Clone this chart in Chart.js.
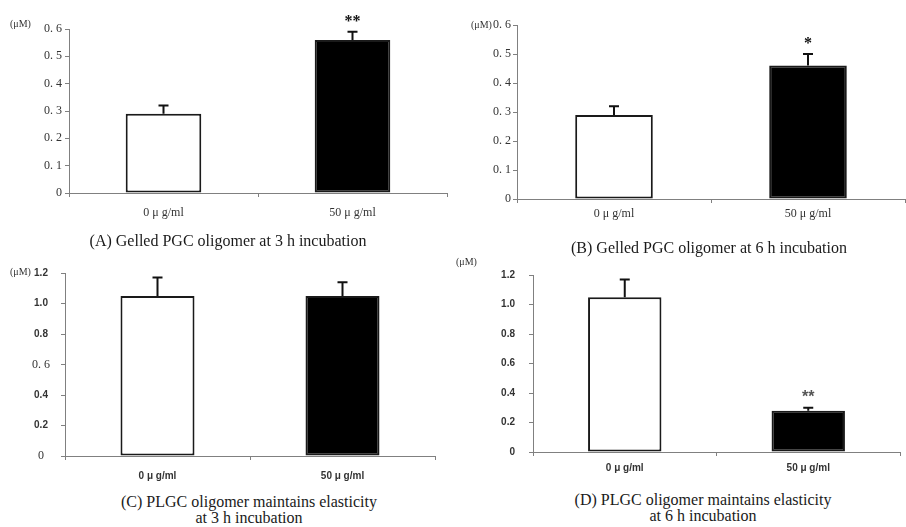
<!DOCTYPE html>
<html>
<head>
<meta charset="utf-8">
<script src="https://cdn.jsdelivr.net/npm/chart.js@4.4.1/dist/chart.umd.min.js"></script>
<style>
  html, body { margin: 0; padding: 0; background: #fff; }
  #wrap { position: relative; width: 906px; height: 527px; overflow: hidden; }
  canvas { position: absolute; }
  .cap { position: absolute; font-family: "Liberation Serif", serif; font-size: 16px; line-height: 16px;
         color: #1a1a1a; text-align: center; white-space: nowrap; transform: translateX(-50%); }
  .unit { position: absolute; font-family: "Liberation Serif", serif; font-size: 10px; line-height: 12px; color: #333; }
</style>
</head>
<body>
<div id="wrap">
  <canvas id="cA"></canvas>
  <canvas id="cB"></canvas>
  <canvas id="cC"></canvas>
  <canvas id="cD"></canvas>

  <div class="unit" style="left:10px;top:18px">(μM)</div>
  <div class="unit" style="left:471px;top:19px">(μM)</div>
  <div class="unit" style="left:10px;top:266px">(μM)</div>
  <div class="unit" style="left:456px;top:256px">(μM)</div>

  <div class="cap" style="left:228px;top:233px">(A) Gelled PGC oligomer at 3 h incubation</div>
  <div class="cap" style="left:709px;top:240px">(B) Gelled PGC oligomer at 6 h incubation</div>
  <div class="cap" style="left:249px;top:494px">(C) PLGC oligomer maintains elasticity<br>at 3 h incubation</div>
  <div class="cap" style="left:703px;top:492px">(D) PLGC oligomer maintains elasticity<br>at 6 h incubation</div>
</div>

<script>
// 데이터
const categories = ['0 μ g/ml', '50 μ g/ml'];

const meanA = [0.29, 0.56];
const errA  = [0.03, 0.03];
const sigA  = ['', '**'];

const meanB = [0.29, 0.46];
const errB  = [0.03, 0.04];
const sigB  = ['', '*'];

const meanC = [1.05, 1.05];
const errC  = [0.12, 0.09];
const sigC  = ['', ''];

const meanD = [1.05, 0.28];
const errD  = [0.12, 0.02];
const sigD  = ['', '**'];

const ticksAB = ['0', '0. 1', '0. 2', '0. 3', '0. 4', '0. 5', '0. 6'];
const ticksC  = ['0', '0.2', '0.4', '0. 6', '0.8', '1.0', '1.2'];
const ticksD  = ['0', '0.2', '0.4', '0.6', '0.8', '1.0', '1.2'];

const AXIS = '#808080';
const SERIF = { family: '"Liberation Serif", serif', size: 12 };
const SANS  = { family: '"Liberation Sans", Arial, sans-serif', size: 10, weight: 'bold' };

/** 오차 막대 + 유의성 표시 */
const errorBars = {
  id: 'errorBars',
  afterDatasetsDraw(chart, args, opts) {
    const meta = chart.getDatasetMeta(0);
    const y = chart.scales.y;
    const vals = chart.data.datasets[0].data;
    const c = chart.ctx;
    c.save();
    meta.data.forEach((bar, i) => {
      const top = y.getPixelForValue(vals[i] + opts.errors[i]);
      c.strokeStyle = '#111';
      c.lineWidth = 2;
      c.beginPath();
      c.moveTo(bar.x, bar.y);
      c.lineTo(bar.x, top);
      c.moveTo(bar.x - 5, top);
      c.lineTo(bar.x + 5, top);
      c.stroke();
      if (opts.marks[i]) {
        c.fillStyle = opts.markColor;
        c.font = opts.markFont;
        c.textAlign = 'center';
        c.textBaseline = 'alphabetic';
        c.fillText(opts.marks[i], bar.x, top - 6);
      }
    });
    c.restore();
  },
};

function makeChart(id, box, data, errs, marks, yMax, step, labels, tickFont, xFont, markFont, markColor) {
  const el = document.getElementById(id);
  el.width = box.w;
  el.height = box.h;
  el.style.left = box.left + 'px';
  el.style.top = box.top + 'px';
  el.style.width = box.w + 'px';
  el.style.height = box.h + 'px';

  return new Chart(el, {
    type: 'bar',
    data: {
      labels: categories,
      datasets: [{
        data,
        backgroundColor: ['#ffffff', '#000000'],
        borderColor: '#1a1a1a',
        borderWidth: 2,
        borderSkipped: false,
        barPercentage: 0.4,
        categoryPercentage: 1,
      }],
    },
    options: {
      responsive: false,
      animation: false,
      devicePixelRatio: 1,
      layout: { padding: { top: box.padTop, right: box.padRight, left: 0, bottom: 0 } },
      plugins: {
        legend: { display: false },
        tooltip: { enabled: false },
        errorBars: { errors: errs, marks, markFont, markColor },
      },
      scales: {
        x: {
          ticks: { font: xFont, color: '#333', padding: box.xPad, maxRotation: 0 },
          grid: { offset: true, drawOnChartArea: false, drawTicks: true, tickLength: 4, color: AXIS },
          border: { display: true, color: AXIS, width: 1 },
          afterFit: s => { s.height = box.xH; },
        },
        y: {
          min: 0,
          max: yMax,
          ticks: {
            stepSize: step,
            callback: (v, i) => labels[i],
            font: tickFont,
            color: '#333',
            padding: box.yPad,
            crossAlign: box.cross || 'near',
          },
          grid: { drawOnChartArea: false, drawTicks: true, tickLength: 4, color: AXIS },
          border: { display: true, color: AXIS, width: 1 },
          afterFit: s => { s.width = box.yW; },
        },
      },
    },
    plugins: [errorBars],
  });
}

makeChart('cA', { left: 0, top: 0, w: 453, h: 226, yW: 69, xH: 33, padTop: 29, padRight: 6, xPad: 9, yPad: 3 },
  meanA, errA, sigA, 0.6, 0.1, ticksAB, SERIF, SERIF, 'bold 16px "Liberation Serif", serif', '#111');

makeChart('cB', { left: 453, top: 0, w: 453, h: 232, yW: 64, xH: 33, padTop: 25, padRight: 1, xPad: 4, yPad: 2 },
  meanB, errB, sigB, 0.6, 0.1, ticksAB, SERIF, SERIF, 'bold 16px "Liberation Serif", serif', '#111');

// C: 0 과 0.6 만 명조체
makeChart('cC', { left: 0, top: 255, w: 453, h: 231, yW: 65, xH: 30, padTop: 18, padRight: 18, xPad: 10, yPad: 11, cross: 'center' },
  meanC, errC, sigC, 1.2, 0.2, ticksC,
  ctx => (ctx.index === 0 || ctx.index === 3) ? SERIF : SANS,
  SANS, 'bold 16px "Liberation Sans", sans-serif', '#555');

makeChart('cD', { left: 453, top: 255, w: 453, h: 230, yW: 80, xH: 33, padTop: 11, padRight: 6, xPad: 6, yPad: 14 },
  meanD, errD, sigD, 1.2, 0.2, ticksD, SANS, SANS, 'bold 16px "Liberation Sans", sans-serif', '#555');
</script>
</body>
</html>
